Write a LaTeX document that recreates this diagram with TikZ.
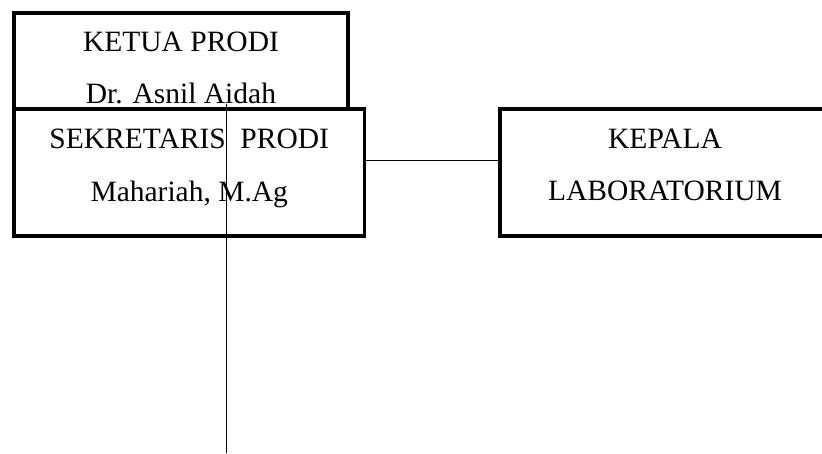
\documentclass[tikz,border=0pt]{standalone}
\usepackage{fontspec}
\setmainfont{Liberation Serif}
\begin{document}
\begin{tikzpicture}[x=1pt,y=-1pt,
  box/.style={draw=black, line width=3.2pt, fill=white, inner sep=0pt, outer sep=0pt},
  lbl/.style={anchor=base, inner sep=0pt, font=\fontsize{29.5}{35}\selectfont},
  link/.style={draw=black, line width=1.3pt}]
\useasboundingbox (0,0) rectangle (822,453);
% boxes
\node[box, minimum width=334pt, minimum height=122pt] (ketua) at (181,74) {};
\node[box, minimum width=350.5pt, minimum height=127pt] (sek) at (189.25,172.5) {};
\node[box, minimum width=330pt, minimum height=127pt] (lab) at (665,172.5) {};
% texts
\node[lbl] (ketua1) at (181,51.7) {KETUA PRODI};
\node[lbl] (ketua2) at (181,103.3) {Dr. Asnil Aidah};
\node[lbl] (sek1) at (189.25,148.3) {SEKRETARIS\ \ PRODI};
\node[lbl] (sek2) at (189.25,201.7) {Mahariah, M.Ag};
\node[lbl] (lab1) at (665,148.3) {KEPALA};
\node[lbl] (lab2) at (665,200) {LABORATORIUM};
% connectors
\coordinate (vtop) at (226.3,104);
\coordinate (vbot) at (226.3,453);
\draw[link] (vtop) -- (vbot);
\draw[link] ([yshift=11.8pt]sek.east) -- ([yshift=11.8pt]lab.west);
\end{tikzpicture}
\end{document}
